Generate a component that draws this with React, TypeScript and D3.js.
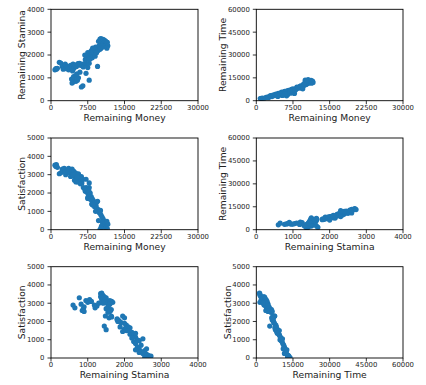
import React from "react";
import * as d3 from "d3";

// one record per run: remaining money / stamina / time and satisfaction
const money = [
  800, 1000, 1100, 1300, 1700, 2000, 2300, 2500, 2700, 3000, 3200, 2900,
  3400, 3600, 3800, 4000, 4200, 4500, 4700, 5000, 5200, 5500, 5800, 6000, 6300, 6600, 7000, 7400, 7800, 7500,
  6200, 4300, 4500, 4800, 5100, 5400, 4200, 4600, 5000, 5600, 6500, 7800, 7150, 5900, 5300, 4400,
  7000, 7300, 7600, 7200, 7800, 8000, 8200, 7500, 8400, 8600, 8100, 8800, 9000, 7700, 8300, 9200, 8900, 9400,
  9600, 9100, 9800, 9300, 10000, 9500, 10200, 10400, 10100, 10600, 10800, 10500, 11000, 11300, 10300, 10900,
  11200, 10000, 11500, 10600, 11600, 10200, 8500, 9700, 11400, 6900,
];
const stamina = [
  1350, 1400, 1380, 1420, 1680, 1650, 1500, 1380, 1450, 1550, 1400, 1600,
  1500, 1350, 1450, 1550, 1480, 1600, 1420, 1560, 1500, 1620, 1640, 1550, 1600, 1480, 1650, 1580, 1640, 1450,
  600, 770, 820, 880, 850, 900, 950, 1050, 1100, 1000, 650, 900, 1200, 1250, 1180, 1300,
  1800, 1850, 1900, 1950, 2000, 1820, 2050, 2100, 1880, 2000, 2150, 2050, 1950, 1800, 2200, 2150, 2250, 2300,
  2200, 2350, 2400, 2100, 2250, 1500, 2300, 2450, 2500, 2350, 2400, 2550, 2450, 2500, 2600, 2650,
  2600, 2700, 2550, 2680, 2400, 2720, 2300, 2600, 2300, 2000,
];
const time = [
  1400, 1500, 1300, 1700, 1500, 2200, 2400, 2000, 2900, 3100, 2700, 3300,
  3600, 3300, 4000, 4300, 3800, 4800, 4500, 5200, 5600, 5400, 6200, 6000, 6500, 6800, 7000, 6800, 7500, 5500,
  3200, 3500, 3800, 4200, 3900, 4100, 3600, 4000, 4400, 3700, 4300, 4800, 5000, 4600, 3400, 2800,
  6500, 6800, 7200, 7500, 7400, 7000, 8000, 7800, 8200, 8500, 7600, 8800, 8300, 6900, 9000, 9200, 9500, 9800,
  10000, 9700, 10200, 9400, 10500, 7800, 10800, 11200, 10700, 11500, 11800, 12000, 12200, 11500, 12500, 13000,
  13300, 13500, 12800, 13800, 12000, 13200, 8600, 11000, 12500, 6300,
];
const satisfaction = [
  3520, 3450, 3550, 3400, 3050, 3100, 3300, 3200, 3350, 3000, 3250, 3150,
  3200, 3350, 3100, 2900, 3050, 2950, 3000, 2800, 2700, 2600, 2650, 2500, 2550, 2300, 2250, 2200, 2300, 1750,
  2900, 3300, 2950, 2700, 2600, 2800, 3150, 3200, 3100, 3050, 2750, 2550, 2750, 2850, 2900, 3000,
  2100, 2050, 1950, 2300, 1900, 2000, 1800, 1700, 1700, 1600, 1650, 1500, 1450, 2150, 1400, 1300, 1250, 1150,
  1100, 1000, 950, 1500, 900, 1550, 800, 700, 1050, 600, 500, 400, 350, 250, 200, 150,
  100, 0, 50, 20, 300, 100, 1350, 500, 450, 2200,
];

const moneyTicks = [0, 7500, 15000, 22500, 30000];
const staminaTicks = [0, 1000, 2000, 3000, 4000];
const timeTicks = [0, 15000, 30000, 45000, 60000];
const satTicks = [0, 1000, 2000, 3000, 4000, 5000];

const FONT = "DejaVu Sans, sans-serif";
const COLOR = "#1f77b4";

type PanelProps = {
  id: string;
  xs: number[];
  ys: number[];
  xTicks: number[];
  yTicks: number[];
  xLabel: string;
  yLabel: string;
  left: number;
  right: number;
  top: number;
  bottom: number;
};

const Panel = ({ id, xs, ys, xTicks, yTicks, xLabel, yLabel, left, right, top, bottom }: PanelProps) => {
  const x = d3.scaleLinear().domain([xTicks[0], xTicks[xTicks.length - 1]]).range([left, right]);
  const y = d3.scaleLinear().domain([yTicks[0], yTicks[yTicks.length - 1]]).range([bottom, top]);
  const maxDigits = d3.max(yTicks, (t) => String(t).length) || 4;
  const yLabelX = left - (11.2 + maxDigits * 4.45);

  return (
    <g>
      <clipPath id={id}>
        <rect x={left} y={top} width={right - left} height={bottom - top} />
      </clipPath>
      <g clipPath={`url(#${id})`}>
        {xs.map((v, i) => (
          <circle key={i} cx={x(v)} cy={y(ys[i])} r={2.6} fill={COLOR} />
        ))}
      </g>
      <rect x={left} y={top} width={right - left} height={bottom - top} fill="none" stroke="#000" strokeWidth={0.9} />
      {xTicks.map((t) => (
        <g key={"x" + t}>
          <line x1={x(t)} x2={x(t)} y1={bottom} y2={bottom + 3.5} stroke="#000" strokeWidth={0.8} />
          <text x={x(t)} y={bottom + 9.4} textAnchor="middle" fontSize={6.9} fontFamily={FONT} fill="#222">
            {t}
          </text>
        </g>
      ))}
      {yTicks.map((t) => (
        <g key={"y" + t}>
          <line x1={left - 3.5} x2={left} y1={y(t)} y2={y(t)} stroke="#000" strokeWidth={0.8} />
          <text x={left - 6.5} y={y(t)} dy="0.35em" textAnchor="end" fontSize={6.9} fontFamily={FONT} fill="#222">
            {t}
          </text>
        </g>
      ))}
      <text x={(left + right) / 2} y={bottom + 20.3} textAnchor="middle" fontSize={9.2} fontFamily={FONT} fill="#222">
        {xLabel}
      </text>
      <text
        transform={`translate(${yLabelX},${(top + bottom) / 2}) rotate(-90)`}
        dy="0.35em"
        textAnchor="middle"
        fontSize={9.2}
        fontFamily={FONT}
        fill="#222"
      >
        {yLabel}
      </text>
    </g>
  );
};

const cols = [
  { left: 51, right: 198 },
  { left: 256.3, right: 403 },
];
const rows = [
  { top: 9.3, bottom: 100.7 },
  { top: 138, bottom: 229.7 },
  { top: 266.7, bottom: 358 },
];

export default function App() {
  const panels = [
    { xs: money, ys: stamina, xTicks: moneyTicks, yTicks: staminaTicks, xLabel: "Remaining Money", yLabel: "Remaining Stamina" },
    { xs: money, ys: time, xTicks: moneyTicks, yTicks: timeTicks, xLabel: "Remaining Money", yLabel: "Remaining Time" },
    { xs: money, ys: satisfaction, xTicks: moneyTicks, yTicks: satTicks, xLabel: "Remaining Money", yLabel: "Satisfaction" },
    { xs: stamina, ys: time, xTicks: staminaTicks, yTicks: timeTicks, xLabel: "Remaining Stamina", yLabel: "Remaining Time" },
    { xs: stamina, ys: satisfaction, xTicks: staminaTicks, yTicks: satTicks, xLabel: "Remaining Stamina", yLabel: "Satisfaction" },
    { xs: time, ys: satisfaction, xTicks: timeTicks, yTicks: satTicks, xLabel: "Remaining Time", yLabel: "Satisfaction" },
  ];
  return (
    <svg
      width={426}
      height={385}
      style={{ position: "absolute", left: 0, top: 0, background: "#fff" }}
    >
      {panels.map((p, i) => (
        <Panel key={i} id={"clip" + i} {...p} {...cols[i % 2]} {...rows[Math.floor(i / 2)]} />
      ))}
    </svg>
  );
}
